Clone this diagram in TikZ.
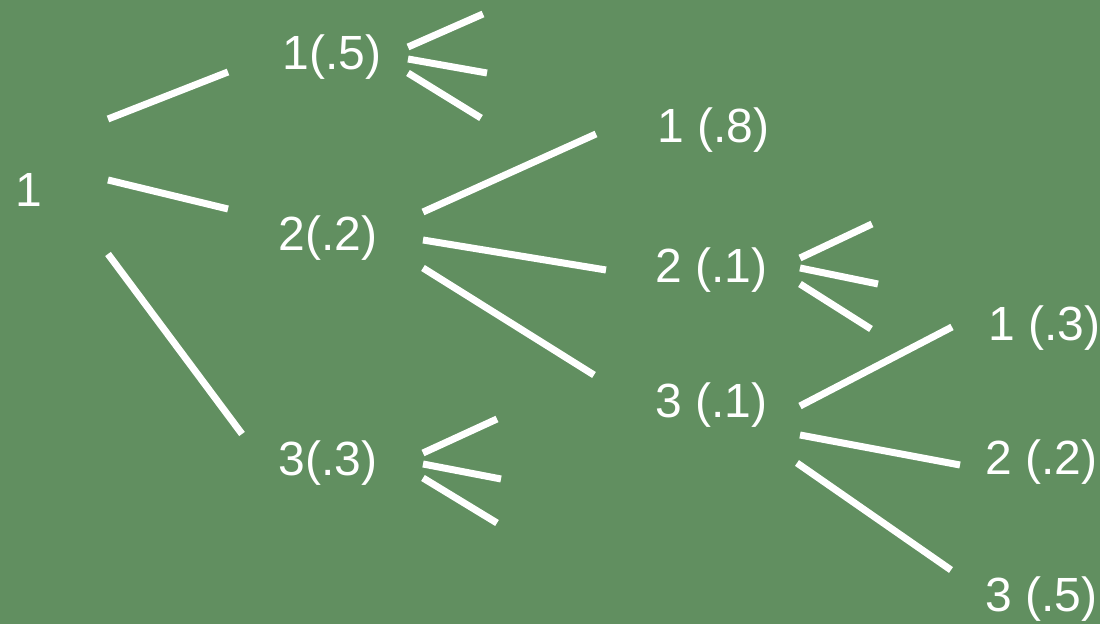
\documentclass[tikz,border=0pt]{standalone}
\usepackage{fontspec}
\setmainfont{Liberation Sans}
\usepackage{tikz}
\usetikzlibrary{positioning}
\definecolor{bggreen}{RGB}{97,143,96}

\begin{document}
\begin{tikzpicture}[
  x=0.5pt, y=-0.5pt,
  lbl/.style={text=white,inner sep=0pt,anchor=base west,font=\fontsize{24}{28}\selectfont},
  br/.style={draw=white,line width=3.5pt}
]
\fill[bggreen] (0,0) rectangle (1100,624);
\useasboundingbox (0,0) rectangle (1100,624);
% tree labels
\node[lbl] (r) at (15,207) {1};
\node[lbl] (a) at (282,70) {1(.5)};
\node[lbl] (b) at (278,251) {2(.2)};
\node[lbl] (c) at (278,476) {3(.3)};
\node[lbl] (ba) at (657,143) {1 (.8)};
\node[lbl] (bb) at (655,283) {2 (.1)};
\node[lbl] (bc) at (655,418) {3 (.1)};
\node[lbl] (bca) at (988,341) {1 (.3)};
\node[lbl] (bcb) at (985,475) {2 (.2)};
\node[lbl] (bcc) at (985,612) {3 (.5)};
% free ends of the unexpanded branches
\coordinate (a1) at ([shift={(201,-56)}]a.base west);
\coordinate (a2) at ([shift={(205,3)}]a.base west);
\coordinate (a3) at ([shift={(199,48)}]a.base west);
\coordinate (bb1) at ([shift={(217,-59)}]bb.base west);
\coordinate (bb2) at ([shift={(223,1)}]bb.base west);
\coordinate (bb3) at ([shift={(216,46)}]bb.base west);
\coordinate (c1) at ([shift={(219,-57)}]c.base west);
\coordinate (c2) at ([shift={(223,3)}]c.base west);
\coordinate (c3) at ([shift={(219,47)}]c.base west);
% branches
\draw[br] ([shift={(93,-88)}]r.base west) -- ([shift={(-54,2)}]a.base west);
\draw[br] ([shift={(93,-27)}]r.base west) -- ([shift={(-50,-42)}]b.base west);
\draw[br] ([shift={(93,47)}]r.base west) -- ([shift={(-36,-42)}]c.base west);
\draw[br] ([shift={(145,-39)}]b.base west) -- ([shift={(-61,-9)}]ba.base west);
\draw[br] ([shift={(145,-11)}]b.base west) -- ([shift={(-49,-13)}]bb.base west);
\draw[br] ([shift={(145,17)}]b.base west) -- ([shift={(-61,-43)}]bc.base west);
\draw[br] ([shift={(145,-12)}]bc.base west) -- ([shift={(-36,-14)}]bca.base west);
\draw[br] ([shift={(145,17)}]bc.base west) -- ([shift={(-25,-10)}]bcb.base west);
\draw[br] ([shift={(142,45)}]bc.base west) -- ([shift={(-34,-42)}]bcc.base west);
% stubs
\draw[br] ([shift={(126,-23)}]a.base west) -- (a1);
\draw[br] ([shift={(126,-11)}]a.base west) -- (a2);
\draw[br] ([shift={(126,3)}]a.base west) -- (a3);
\draw[br] ([shift={(145,-25)}]bb.base west) -- (bb1);
\draw[br] ([shift={(145,-15)}]bb.base west) -- (bb2);
\draw[br] ([shift={(145,1)}]bb.base west) -- (bb3);
\draw[br] ([shift={(145,-23)}]c.base west) -- (c1);
\draw[br] ([shift={(145,-12)}]c.base west) -- (c2);
\draw[br] ([shift={(145,2)}]c.base west) -- (c3);
\end{tikzpicture}
\end{document}
